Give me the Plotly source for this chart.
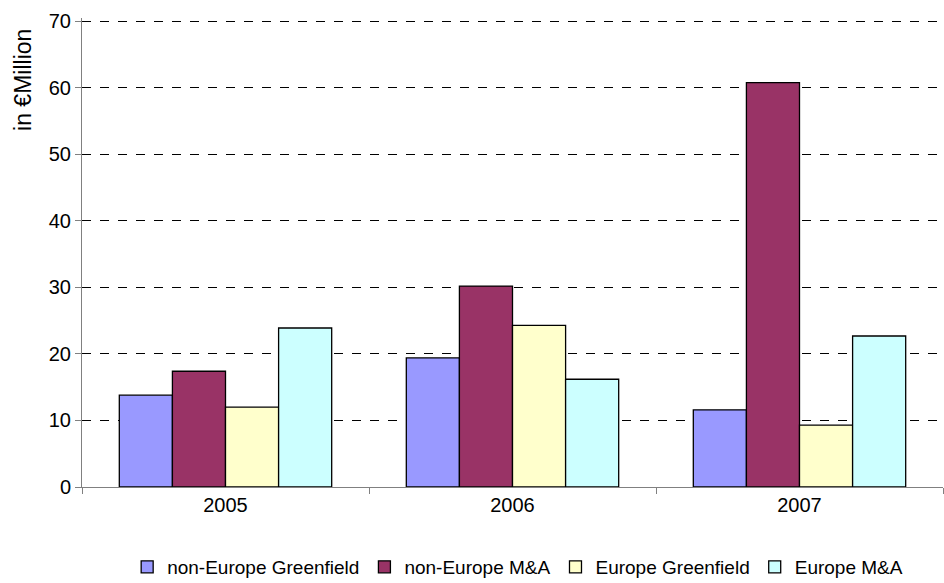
import plotly.graph_objects as go

years = ["2005", "2006", "2007"]
non_europe_greenfield = [13.8, 19.4, 11.6]
non_europe_ma = [17.4, 30.2, 60.8]
europe_greenfield = [12.0, 24.3, 9.3]
europe_ma = [23.9, 16.2, 22.7]
y_ticks = [0, 10, 20, 30, 40, 50, 60, 70]

series = [
    ("non-Europe Greenfield", non_europe_greenfield, "#9999FF"),
    ("non-Europe M&A", non_europe_ma, "#993366"),
    ("Europe Greenfield", europe_greenfield, "#FFFFCC"),
    ("Europe M&A", europe_ma, "#CCFFFF"),
]

fig = go.Figure()
for name, vals, col in series:
    fig.add_trace(go.Bar(x=years, y=vals, name=name,
                         marker=dict(color=col, line=dict(color="black", width=1.3))))

fig.update_layout(
    width=944, height=583, autosize=False,
    barmode="group", bargap=0.26, bargroupgap=0,
    plot_bgcolor="white", paper_bgcolor="white",
    margin=dict(l=82, r=1, t=18, b=96, autoexpand=False),
    font=dict(family="Liberation Sans, Arial, sans-serif", size=20, color="black"),
    legend=dict(orientation="h", x=0.506, xanchor="center", y=-0.13, yanchor="top",
                font=dict(size=19), itemwidth=30, traceorder="normal", tracegroupgap=0),
    showlegend=True,
    annotations=[dict(text="in €Million", textangle=-90, xref="paper", yref="paper",
                      x=-0.0685, y=0.868, xanchor="center", yanchor="middle",
                      showarrow=False, font=dict(size=23))],
)
fig.update_xaxes(type="category", showline=True, linecolor="#808080", linewidth=1,
                 ticks="outside", tickson="boundaries", ticklen=6, tickcolor="#808080",
                 showgrid=False, tickfont=dict(size=20), automargin=False)
fig.update_yaxes(range=[0, 70.5], tickvals=y_ticks,
                 showline=True, linecolor="#808080", linewidth=1,
                 ticks="outside", ticklen=6, tickcolor="#808080",
                 showgrid=True, gridcolor="black", gridwidth=1, griddash="dash",
                 zeroline=False, tickfont=dict(size=20), automargin=False)
fig.write_html("out.html", config={"displayModeBar": False},
               post_script="document.body.style.margin='0px';")
